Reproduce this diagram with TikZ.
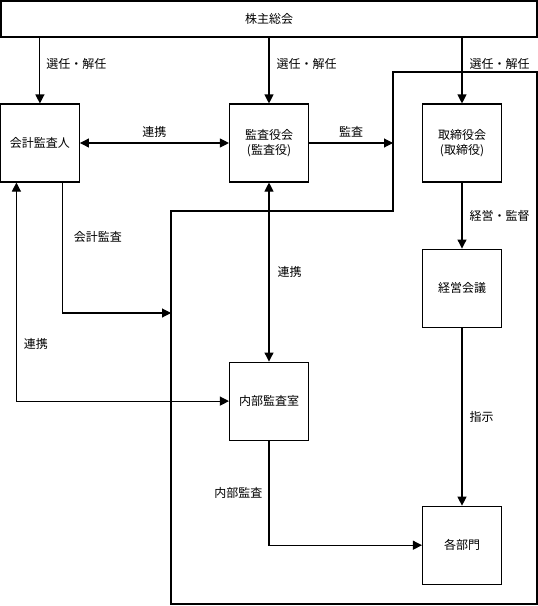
\documentclass[tikz,border=0pt]{standalone}
\usepackage{fontspec}
\setmainfont{Noto Sans CJK JP}
\usetikzlibrary{positioning}
\usetikzlibrary{arrows.meta}
\tikzstyle{box} = [rectangle, minimum width=79pt, minimum height=78pt, inner sep=0pt, text centered, align=center, draw=black, line width=1.1pt]
\tikzstyle{arrow} = [line width=1.1pt,-{Triangle[length=9pt,width=9pt]}]
\tikzstyle{biarrow} = [line width=1.1pt,{Triangle[length=9pt,width=9pt]}-{Triangle[length=9pt,width=9pt]}]
\tikzstyle{lbl} = [inner sep=0pt]

\begin{document}
\begin{tikzpicture}[x=1pt, y=-1pt, font=\fontsize{12}{15}\selectfont]
        \useasboundingbox (0,0) rectangle (538,606);

        % Company outline
        \draw[line width=1.1pt] (393,72) -- (537,72) -- (537,604) -- (171,604) -- (171,211) -- (393,211) -- cycle;
        \coordinate (corpright) at (393,143);
        \coordinate (corpleft) at (171,313);

        % Shareholders meeting on top
        \node[box, minimum width=536pt, minimum height=36pt] (meeting) at (269,19) {株主総会};

        % Boxes in the top row
        \node[box] (kansa) at (269,143) {監査役会\\(監査役)};
        \node[box, left=149pt of kansa] (auditor) {会計監査人};
        \node[box] (board) at (462,143) {取締役会\\(取締役)};

        % Boxes below
        \node[box, below=66pt of board] (mgmt) {経営会議};
        \node[box, below=178pt of mgmt] (dept) {各部門};
        \node[box, below=179pt of kansa] (internal) {内部監査室};
        %
        % % Connections
        \draw[arrow] (meeting.south -| auditor.north) -- (auditor.north) node[lbl, pos=0.4, right=6pt] {選任・解任};
        \draw[arrow] (meeting.south -| kansa.north) -- (kansa.north) node[lbl, pos=0.4, right=7pt] {選任・解任};
        \draw[arrow] (meeting.south -| board.north) -- (board.north) node[lbl, pos=0.4, right=7pt] {選任・解任};
        \draw[biarrow] (auditor) -- (kansa) node[lbl, midway, above=5pt] {連携};
        \draw[arrow] (kansa) -- (corpright) node[lbl, midway, above=5pt] {監査};
        \draw[arrow] ([xshift=22.5pt]auditor.south) |- (corpleft) node[lbl, pos=0.21, right=11pt] {会計監査};
        \draw[biarrow] ([xshift=-23.5pt]auditor.south) |- (internal.west) node[lbl, pos=0.37, right=7pt] {連携};
        \draw[biarrow] (kansa) -- (internal) node[lbl, midway, right=8pt] {連携};
        \draw[arrow] (board) -- (mgmt) node[lbl, midway, right=7pt] {経営・監督};
        \draw[arrow] (mgmt) -- (dept) node[lbl, midway, right=7pt] {指示};
        \draw[arrow] (internal.south) |- (dept.west) node[lbl, pos=0.25, left=6pt] {内部監査};

    \end{tikzpicture}
\end{document}
